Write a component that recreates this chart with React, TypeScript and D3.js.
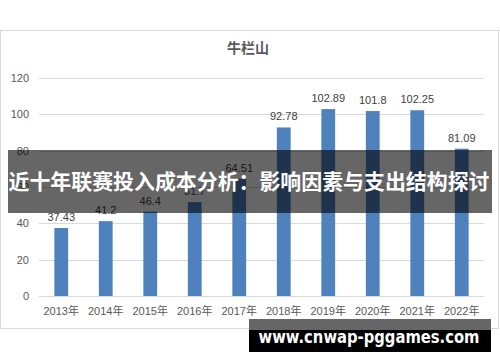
import * as d3 from 'd3'

const years = ['2013年', '2014年', '2015年', '2016年', '2017年', '2018年', '2019年', '2020年', '2021年', '2022年']
const values = [37.43, 41.2, 46.4, 51.7, 64.51, 92.78, 102.89, 101.8, 102.25, 81.09]
const yTicks = [0, 20, 40, 60, 80, 100, 120]
const chartTitle = '牛栏山'
const bannerText = '近十年联赛投入成本分析：影响因素与支出结构探讨'
const siteText = 'www.cnwap-pggames.com'

const W = 500, H = 362
const margin = { top: 78, right: 16, bottom: 66, left: 39 }
const font = '"Liberation Sans", "Noto Sans CJK SC", sans-serif'

export default function App() {
    const x = d3.scaleBand<string>().domain(years).range([margin.left, W - margin.right]).paddingInner(0.69).paddingOuter(0.345)
    const y = d3.scaleLinear().domain([0, 120]).range([H - margin.bottom, margin.top])

    return <svg width={W} height={H} style={{ position: 'absolute', left: 0, top: 0, fontFamily: font }}>
        <rect x={0} y={0} width={W} height={H} fill="#fff" />
        <rect x={0.5} y={30.5} width={498} height={298} fill="#fff" stroke="#d9d9d9" />
        <text x={248} y={53} textAnchor="middle" fontSize={14} fontWeight="bold" fill="#595959"
            fontFamily='"Noto Sans CJK SC", sans-serif'>{chartTitle}</text>
        {yTicks.map(t => <g key={t}>
            <line x1={margin.left} x2={W - margin.right} y1={Math.round(y(t)) + 0.5} y2={Math.round(y(t)) + 0.5} stroke="#d9d9d9" />
            <text x={29} y={y(t)} dy="0.35em" textAnchor="end" fontSize={11} fill="#595959">{t}</text>
        </g>)}
        {years.map((yr, i) => <g key={yr}>
            <rect x={x(yr)} y={y(values[i])} width={x.bandwidth()} height={y(0) - y(values[i])} fill="#4f81bd" />
            <text x={x(yr)! + x.bandwidth() / 2} y={y(values[i]) - 7} textAnchor="middle" fontSize={11} fill="#404040">{values[i]}</text>
            <text x={x(yr)! + x.bandwidth() / 2} y={315} textAnchor="middle" fontSize={11} fill="#595959"
                fontFamily='"Liberation Sans", "Noto Sans CJK SC", sans-serif'>{yr}</text>
        </g>)}
        <rect x={8} y={150} width={484} height={63} fill="rgba(0,0,0,0.6)" />
        <text x={249} y={182} dy="0.35em" textAnchor="middle" fontSize={21} fontWeight="bold" fill="#fff"
            fontFamily='"Noto Sans CJK SC", sans-serif' textLength={481} lengthAdjust="spacingAndGlyphs">{bannerText}</text>
        <rect x={249} y={319} width={242} height={11} fill="#666" />
        <rect x={249} y={330} width={242} height={22} fill="#000" />
        <text x={369} y={343} textAnchor="middle" fontSize={18} fontWeight="bold" fill="#fff"
            fontFamily='"DejaVu Sans", sans-serif' textLength={221} lengthAdjust="spacingAndGlyphs">{siteText}</text>
    </svg>
}
